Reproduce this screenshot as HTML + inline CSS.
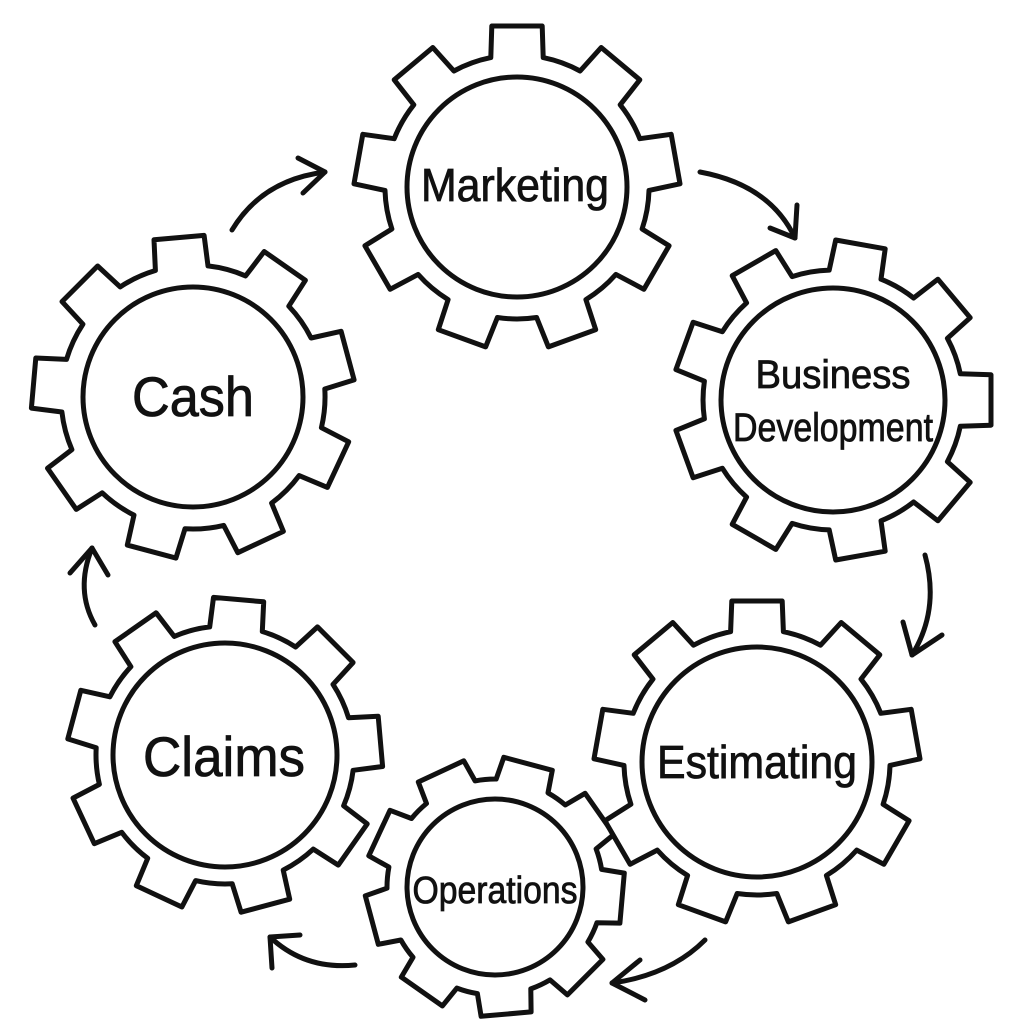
<!DOCTYPE html>
<html><head><meta charset="utf-8"><style>
html,body{margin:0;padding:0;background:#fff;}
svg{display:block;}
text{font-family:"Liberation Sans",sans-serif;fill:#111;stroke:#111;stroke-width:0.8;}
</style></head><body>
<svg id="s" width="1024" height="1024" viewBox="0 0 1024 1024" xmlns="http://www.w3.org/2000/svg">
<g id="gears" fill="#fff" stroke="#111" stroke-width="5" stroke-linejoin="round" stroke-linecap="round"></g>
<g fill="none" stroke="#111" stroke-width="5" stroke-linecap="round" stroke-linejoin="round">
<path d="M232,230 Q262,180 325,172"/><path d="M298,158 L325,172 L303,193"/>
<path d="M700,172 Q770,185 795,238"/><path d="M770,228 L795,238 L797,205"/>
<path d="M925,555 Q940,610 912,655"/><path d="M903,622 L912,655 L942,635"/>
<path d="M705,940 Q670,975 612,983"/><path d="M640,960 L612,983 L645,1000"/>
<path d="M355,965 Q305,970 270,937"/><path d="M272,968 L270,937 L300,935"/>
<path d="M95,625 Q75,590 92,548"/><path d="M70,573 L92,548 L108,575"/>
</g>
<g text-anchor="middle">
<text x="515" y="201" font-size="46" textLength="188" lengthAdjust="spacingAndGlyphs">Marketing</text>
<text x="833" y="388" font-size="40" textLength="155" lengthAdjust="spacingAndGlyphs">Business</text>
<text x="833" y="441" font-size="40" textLength="200" lengthAdjust="spacingAndGlyphs">Development</text>
<text x="757" y="778" font-size="46" textLength="200" lengthAdjust="spacingAndGlyphs">Estimating</text>
<text x="495" y="903" font-size="38" textLength="165" lengthAdjust="spacingAndGlyphs">Operations</text>
<text x="224" y="776" font-size="56" textLength="162" lengthAdjust="spacingAndGlyphs">Claims</text>
<text x="193" y="416" font-size="56" textLength="122" lengthAdjust="spacingAndGlyphs">Cash</text>
</g>
</svg>
<script>
var G=[[517,187,163,132,110,0],[833,400,160,130,112,10],[495,887,130,108,88,15],[757,762,163,133,115,0],[225,755,158,129,112,5],[193,397,162,132,110,-5]];
var g=document.getElementById('gears'),h="";
G.forEach(function(a){var cx=a[0],cy=a[1],rt=a[2],rb=a[3],ri=a[4],rot=a[5]*Math.PI/180,n=9,d="";
for(var i=0;i<n;i++){var c=rot+i*2*Math.PI/n-Math.PI/2;var wb=0.2*163/rt,wt=0.155*163/rt;
var pts=[[c-wb,rb],[c-wt,rt],[c+wt,rt],[c+wb,rb]];
pts.forEach(function(p,k){var x=cx+p[1]*Math.cos(p[0]),y=cy+p[1]*Math.sin(p[0]);
d+=(i==0&&k==0?"M":(k==0?"A"+rb+","+rb+" 0 0 1 ":"L"))+x.toFixed(1)+","+y.toFixed(1)+" ";});}
var c0=rot-Math.PI/2-0.2*163/rt;d+="A"+rb+","+rb+" 0 0 1 "+(cx+rb*Math.cos(c0)).toFixed(1)+","+(cy+rb*Math.sin(c0)).toFixed(1)+" Z";
h+='<path d="'+d+'"/><circle cx="'+cx+'" cy="'+cy+'" r="'+ri+'"/>';});
g.innerHTML=h;
</script>
</body></html>
